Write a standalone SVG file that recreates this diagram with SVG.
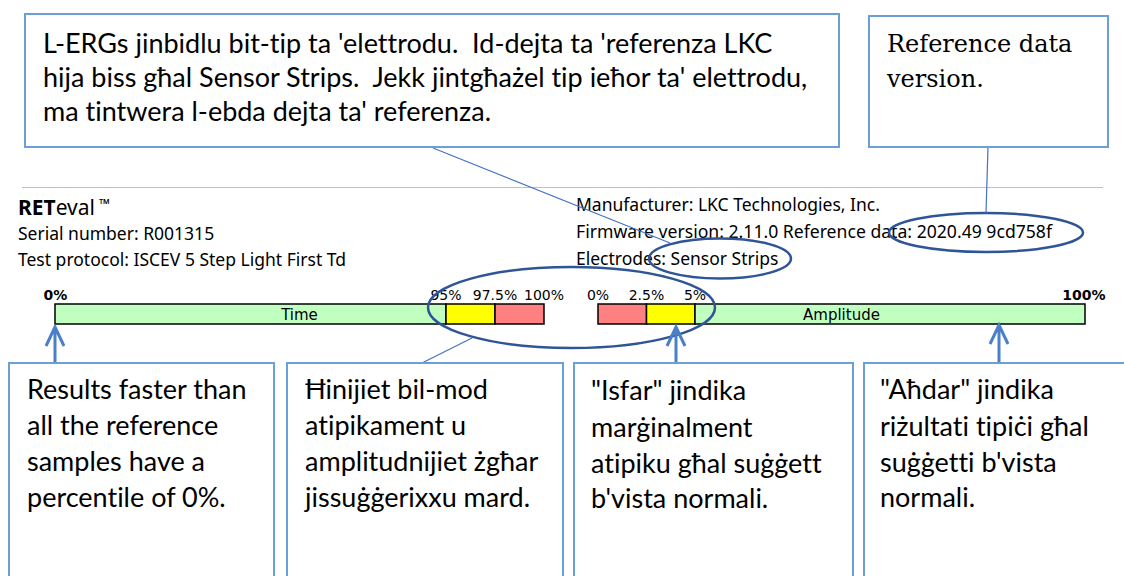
<svg xmlns="http://www.w3.org/2000/svg" width="1124" height="576" viewBox="0 0 1124 576">
<defs>
<style>
.box{fill:#fff;stroke:#6a9fd8;stroke-width:2}
.body{font-family:Lato,"Open Sans",sans-serif;font-size:27px;fill:#000;font-variant-ligatures:none;font-feature-settings:"liga" 0}
.serif{font-family:"DejaVu Serif",serif;font-size:24px;fill:#000}
.hdr{font-family:"Noto Sans","Open Sans",sans-serif;font-size:17.5px;fill:#000}
.lbl{font-family:"DejaVu Sans",sans-serif;font-size:14px;fill:#000}
.bar{stroke:#000;stroke-width:1.5}
.green{fill:#c0ffc0}.yellow{fill:#ffff00}.red{fill:#ff8080}
.oval{fill:none;stroke:#2f5597;stroke-width:2.5}
.thin{fill:none;stroke:#4472c4;stroke-width:1.2}
.arrow{fill:none;stroke:#4a7fc9;stroke-width:3}
</style>
</defs>
<rect width="1124" height="576" fill="#fff"/>
<line x1="22" y1="187.5" x2="1103" y2="187.5" stroke="#c0c0c0" stroke-width="1"/>
<g id="header">
<text class="hdr" x="18" y="215" style="font-size:21px"><tspan font-weight="bold">RET</tspan>eval</text>
<text class="hdr" x="99" y="209" style="font-size:14px">™</text>
<text class="hdr" x="18" y="240">Serial number: R001315</text>
<text class="hdr" x="18" y="266">Test protocol: ISCEV 5 Step Light First Td</text>
<text class="hdr" x="576" y="211">Manufacturer: LKC Technologies, Inc.</text>
<text class="hdr" x="576" y="238" textLength="476" lengthAdjust="spacingAndGlyphs">Firmware version: 2.11.0 Reference data: 2020.49 9cd758f</text>
<text class="hdr" x="576" y="265">Electrodes: Sensor Strips</text>
</g>
<g id="time-bar">
<rect class="bar green" x="55" y="304" width="391" height="20"/>
<rect class="bar yellow" x="446" y="304" width="49" height="20"/>
<rect class="bar red" x="495" y="304" width="49" height="20"/>
<text class="lbl" x="299.5" y="319.5" text-anchor="middle" style="font-size:15px">Time</text>
<text class="lbl" x="55.5" y="300" text-anchor="middle" font-weight="bold">0%</text>
<text class="lbl" x="446" y="300" text-anchor="middle">95%</text>
<text class="lbl" x="495" y="300" text-anchor="middle">97.5%</text>
<text class="lbl" x="544" y="300" text-anchor="middle">100%</text>
</g>
<g id="amplitude-bar">
<rect class="bar red" x="598" y="304" width="48.5" height="20"/>
<rect class="bar yellow" x="646.5" y="304" width="48.5" height="20"/>
<rect class="bar green" x="695" y="304" width="390" height="20"/>
<text class="lbl" x="841.5" y="319.5" text-anchor="middle" style="font-size:15px">Amplitude</text>
<text class="lbl" x="598" y="300" text-anchor="middle">0%</text>
<text class="lbl" x="646.5" y="300" text-anchor="middle">2.5%</text>
<text class="lbl" x="695" y="300" text-anchor="middle">5%</text>
<text class="lbl" x="1084" y="300" text-anchor="middle" font-weight="bold">100%</text>
</g>
<g id="highlights">
<ellipse class="oval" cx="571.5" cy="307.5" rx="143.5" ry="40.5"/>
<ellipse class="oval" cx="720" cy="258.5" rx="71" ry="20"/>
<ellipse class="oval" cx="986" cy="232.5" rx="97" ry="19.5"/>
</g>
<g id="connectors">
<line class="thin" x1="433" y1="148" x2="670" y2="243"/>
<line class="thin" x1="988" y1="147" x2="986" y2="213"/>
<line class="thin" x1="472" y1="338" x2="422" y2="363"/>
<path class="arrow" d="M55 363V327M46 346L55 327L64 346"/>
<path class="arrow" d="M676 363V327M667 346L676 327L685 346"/>
<path class="arrow" d="M999 363V325M990 344L999 325L1008 344"/>
</g>
<g id="note-electrodes">
<rect class="box" x="25" y="14" width="814" height="133"/>
<text class="body" xml:space="preserve" x="43" y="53">L-ERGs jinbidlu bit-tip ta 'elettrodu.  Id-dejta ta 'referenza LKC</text>
<text class="body" xml:space="preserve" x="43" y="87">hija biss għal Sensor Strips.  Jekk jintgħażel tip ieħor ta' elettrodu,</text>
<text class="body" x="43" y="121">ma tintwera l-ebda dejta ta' referenza.</text>
</g>
<g id="note-refdata">
<rect class="box" x="869" y="16" width="239" height="131"/>
<text class="serif" x="887" y="52">Reference data</text>
<text class="serif" x="887" y="87">version.</text>
</g>
<g id="note-faster">
<rect class="box" x="9" y="363" width="265" height="220"/>
<text class="body"><tspan x="27" y="399">Results faster than</tspan><tspan x="27" y="435">all the reference</tspan><tspan x="27" y="471">samples have a</tspan><tspan x="27" y="507">percentile of 0%.</tspan></text>
</g>
<g id="note-slow">
<rect class="box" x="287" y="363" width="276" height="220"/>
<text class="body"><tspan x="305" y="399">Ħinijiet bil-mod</tspan><tspan x="305" y="435">atipikament u</tspan><tspan x="305" y="471">amplitudnijiet żgħar</tspan><tspan x="305" y="507">jissuġġerixxu mard.</tspan></text>
</g>
<g id="note-yellow">
<rect class="box" x="574" y="363" width="279" height="220"/>
<text class="body"><tspan x="591" y="400">"Isfar" jindika</tspan><tspan x="591" y="437">marġinalment</tspan><tspan x="591" y="473">atipiku għal suġġett</tspan><tspan x="591" y="508">b'vista normali.</tspan></text>
</g>
<g id="note-green">
<rect class="box" x="864" y="363" width="270" height="220"/>
<text class="body"><tspan x="880" y="399">"Aħdar" jindika</tspan><tspan x="880" y="436">riżultati tipiċi għal</tspan><tspan x="880" y="472">suġġetti b'vista</tspan><tspan x="880" y="507">normali.</tspan></text>
</g>
</svg>
